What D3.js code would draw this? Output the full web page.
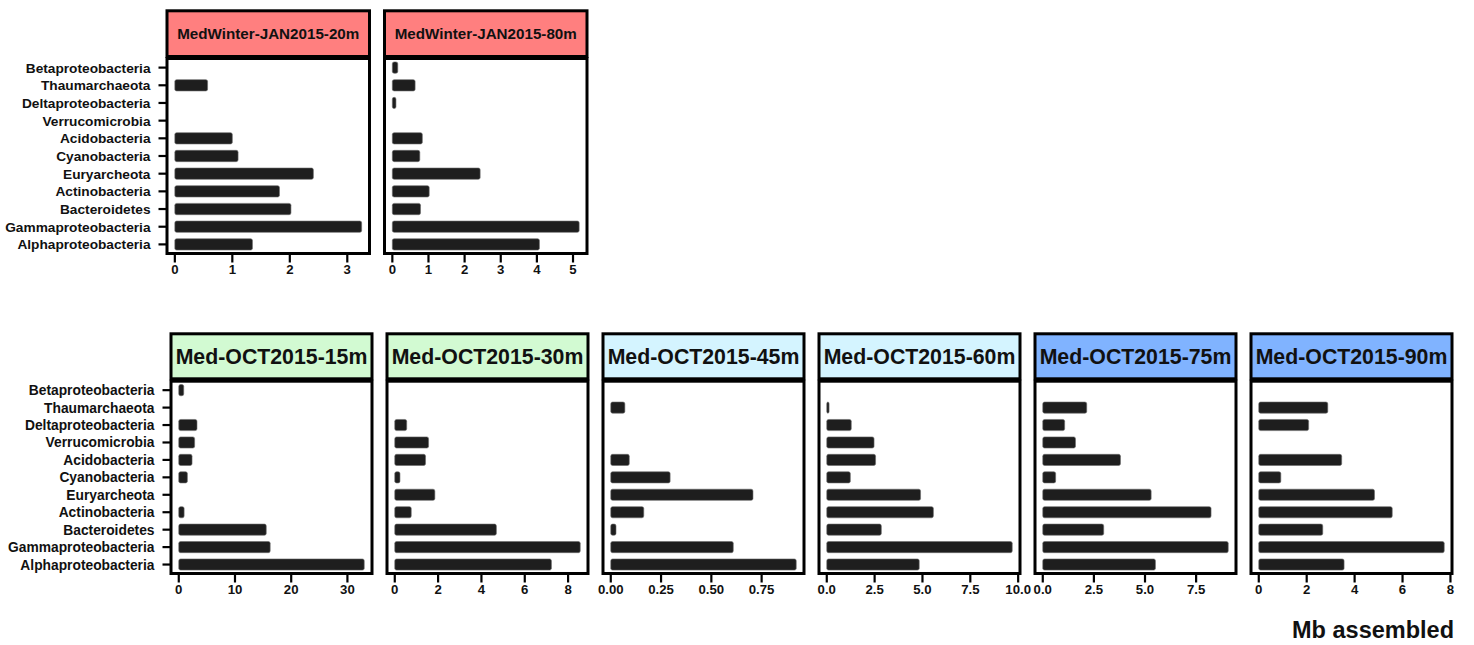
<!DOCTYPE html>
<html>
<head>
<meta charset="utf-8">
<script src="https://cdn.jsdelivr.net/npm/d3@7/dist/d3.min.js"></script>
<style>
  html, body { margin: 0; padding: 0; background: #fff; }
  svg { display: block; font-family: "Liberation Sans", Arial, Helvetica, sans-serif; font-weight: bold; }
</style>
</head>
<body>
<svg id="chart" width="1474" height="645"></svg>
<script>
// Categories, top to bottom
const categories = ["Betaproteobacteria","Thaumarchaeota","Deltaproteobacteria","Verrucomicrobia",
  "Acidobacteria","Cyanobacteria","Euryarcheota","Actinobacteria","Bacteroidetes",
  "Gammaproteobacteria","Alphaproteobacteria"];

// Mb assembled per sample (same order as categories; null = absent)
const winter20 = [null, 0.57, null, null, 1.00, 1.10, 2.41, 1.82, 2.02, 3.25, 1.35];
const winter80 = [0.15, 0.63, 0.10, null, 0.83, 0.76, 2.43, 1.02, 0.78, 5.17, 4.07];
const oct15 = [0.88, null, 3.24, 2.82, 2.36, 1.53, null, 0.95, 15.56, 16.26, 32.99];
const oct30 = [null, null, 0.55, 1.56, 1.42, 0.24, 1.85, 0.76, 4.69, 8.56, 7.23];
const oct45 = [null, 0.070, null, null, 0.092, 0.295, 0.707, 0.164, 0.026, 0.609, 0.922];
const oct60 = [null, 0.12, 1.28, 2.47, 2.55, 1.23, 4.90, 5.57, 2.85, 9.69, 4.83];
const oct75 = [null, 2.15, 1.07, 1.60, 3.80, 0.63, 5.30, 8.23, 2.98, 9.07, 5.51];
const oct90 = [null, 2.88, 2.08, null, 3.46, 0.92, 4.83, 5.57, 2.67, 7.74, 3.56];

// Panel titles and tick labels
const topTitles = ["MedWinter-JAN2015-20m", "MedWinter-JAN2015-80m"];
const bottomTitles = ["Med-OCT2015-15m","Med-OCT2015-30m","Med-OCT2015-45m","Med-OCT2015-60m","Med-OCT2015-75m","Med-OCT2015-90m"];
const ticksWinter20 = ["0","1","2","3"];
const ticksWinter80 = ["0","1","2","3","4","5"];
const ticksOct15 = ["0","10","20","30"];
const ticksOct30 = ["0","2","4","6","8"];
const ticksOct45 = ["0.00","0.25","0.50","0.75"];
const ticksOct60 = ["0.0","2.5","5.0","7.5","10.0"];
const ticksOct75 = ["0.0","2.5","5.0","7.5"];
const ticksOct90 = ["0","2","4","6","8"];
const xTitle = "Mb assembled";

const stripColors = {
  winter: "#FF7F7F",
  green: "#D2FAD2",
  cyan: "#D4F4FF",
  blue: "#80B3FF"
};

const svg = d3.select("#chart");

const panels = [
  {row: 0, col: 0, title: topTitles[0], values: winter20, ticks: ticksWinter20, color: stripColors.winter, yAxis: true},
  {row: 0, col: 1, title: topTitles[1], values: winter80, ticks: ticksWinter80, color: stripColors.winter, yAxis: false},
  {row: 1, col: 0, title: bottomTitles[0], values: oct15, ticks: ticksOct15, color: stripColors.green, yAxis: true},
  {row: 1, col: 1, title: bottomTitles[1], values: oct30, ticks: ticksOct30, color: stripColors.green, yAxis: false},
  {row: 1, col: 2, title: bottomTitles[2], values: oct45, ticks: ticksOct45, color: stripColors.cyan, yAxis: false},
  {row: 1, col: 3, title: bottomTitles[3], values: oct60, ticks: ticksOct60, color: stripColors.cyan, yAxis: false},
  {row: 1, col: 4, title: bottomTitles[4], values: oct75, ticks: ticksOct75, color: stripColors.blue, yAxis: false},
  {row: 1, col: 5, title: bottomTitles[5], values: oct90, ticks: ticksOct90, color: stripColors.blue, yAxis: false}
];

const rowLayout = [
  {left: 165.5, pitch: 217.5, width: 205.5, stripTop: 9.3, stripBottom: 58, panelTop: 57, panelBottom: 255, stripFont: 15.2, yLabelFont: 13.7},
  {left: 169.5, pitch: 216, width: 204, stripTop: 332.3, stripBottom: 380.3, panelTop: 379.7, panelBottom: 575, stripFont: 21.3, yLabelFont: 13.8}
];

const sw = 3;

panels.forEach(p => {
  const L = rowLayout[p.row];
  const x0 = L.left + p.col * L.pitch;
  const x1 = x0 + L.width;
  const vals = p.values.filter(v => v != null);
  const M = d3.max(vals);

  const x = d3.scaleLinear().domain([-0.05 * M, 1.05 * M]).range([x0, x1]);
  const y = d3.scalePoint().domain(categories).range([L.panelTop, L.panelBottom]).padding(0.6);
  const step = y.step();
  const barH = step * 0.64;

  const g = svg.append("g");

  g.append("rect")
    .attr("x", x0 + sw/2).attr("y", L.panelTop + sw/2)
    .attr("width", L.width - sw).attr("height", L.panelBottom - L.panelTop - sw)
    .attr("fill", "#fff");

  const data = categories.map((c, i) => ({c, v: p.values[i]})).filter(d => d.v != null);
  g.selectAll("rect.bar").data(data).join("rect")
    .attr("class", "bar")
    .attr("x", x(0))
    .attr("y", d => y(d.c) - barH/2)
    .attr("width", d => Math.max(1.5, x(d.v) - x(0)))
    .attr("height", barH)
    .attr("rx", 1.8)
    .attr("fill", "#1e1e1e")
    .attr("stroke", "#6a6a6a")
    .attr("stroke-width", 0.6);

  g.append("rect")
    .attr("x", x0 + sw/2).attr("y", L.panelTop + sw/2)
    .attr("width", L.width - sw).attr("height", L.panelBottom - L.panelTop - sw)
    .attr("fill", "none").attr("stroke", "#000").attr("stroke-width", sw);

  g.append("rect")
    .attr("x", x0 + sw/2).attr("y", L.stripTop + sw/2)
    .attr("width", L.width - sw).attr("height", L.stripBottom - L.stripTop - sw)
    .attr("fill", p.color).attr("stroke", "#000").attr("stroke-width", sw);
  g.append("text")
    .attr("x", (x0 + x1) / 2)
    .attr("y", (L.stripTop + L.stripBottom) / 2)
    .attr("dy", "0.36em")
    .attr("text-anchor", "middle")
    .attr("font-size", L.stripFont)
    .attr("fill", "#111")
    .text(p.title);

  const tickVals = p.ticks.map(Number);
  const xa = g.append("g");
  xa.selectAll("line").data(tickVals).join("line")
    .attr("x1", d => x(d)).attr("x2", d => x(d))
    .attr("y1", L.panelBottom - 1).attr("y2", L.panelBottom + 7.5)
    .attr("stroke", "#000").attr("stroke-width", 2.2);
  xa.selectAll("text").data(p.ticks).join("text")
    .attr("x", d => x(+d))
    .attr("y", L.panelBottom + 18.8)
    .attr("text-anchor", "middle")
    .attr("font-size", 13.2)
    .attr("fill", "#111")
    .text(d => d);

  if (p.yAxis) {
    const ya = g.append("g");
    ya.selectAll("line").data(categories).join("line")
      .attr("x1", x0 - 7).attr("x2", x0 + 1)
      .attr("y1", d => y(d)).attr("y2", d => y(d))
      .attr("stroke", "#000").attr("stroke-width", 2.2);
    ya.selectAll("text").data(categories).join("text")
      .attr("x", x0 - 15)
      .attr("y", d => y(d))
      .attr("dy", "0.36em")
      .attr("text-anchor", "end")
      .attr("font-size", L.yLabelFont)
      .attr("fill", "#111")
      .text(d => d);
  }
});

svg.append("text")
  .attr("x", 1454)
  .attr("y", 638)
  .attr("text-anchor", "end")
  .attr("font-size", 23.5)
  .attr("fill", "#111")
  .text(xTitle);
</script>
</body>
</html>
